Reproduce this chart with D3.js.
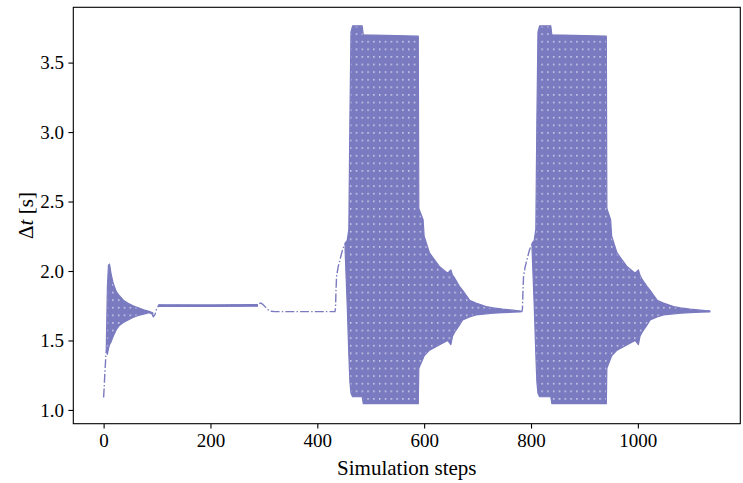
<!DOCTYPE html>
<html>
<head>
<meta charset="utf-8">
<script src="https://cdn.jsdelivr.net/npm/d3@7"></script>
<style>
  body { margin: 0; background: #fff; }
  text { font-family: "Liberation Serif", "DejaVu Serif", serif; fill: #000; }
</style>
</head>
<body>
<svg id="chart" width="743" height="483"></svg>
<script>
// Time-step size per simulation step.
// Single-valued stretches of the trace (null separates stretches).
const traceSteps = [0, 1, 2, 3, 4, 5, null,
  90, 93, 96, 99, 103, 150, 200, 250, 285, 290, 294, 298, 303, 308, 314, 320, 380, 433, 434, 435, 436, 439, 443, 447, 450, 453, null,
  778, 783, 784, 785, 786, 789, 793, 797, 800, 803, null,
  1130, 1135];
const traceDt = [1.09, 1.16, 1.24, 1.31, 1.38, 1.43, null,
  1.70, 1.672, 1.685, 1.725, 1.752, 1.752, 1.75, 1.752, 1.755, 1.763, 1.77, 1.76, 1.74, 1.72, 1.71, 1.708, 1.708, 1.708, 1.73, 1.86, 1.96, 2.03, 2.09, 2.15, 2.18, 2.2, null,
  1.71, 1.708, 1.73, 1.86, 1.96, 2.03, 2.09, 2.15, 2.18, 2.2, null,
  1.712, 1.71];

// Oscillating stretches: upper and lower reach of the step size (null separates stretches).
const bandSteps = [5, 7, 9, 11, 14, 18, 24, 30, 37, 45, 55, 65, 75, 85, 92, null,
  103, 200, 288, null,
  452, 456, 459, 461, 463, 466, 484, 486, 589, 590, 598, 600, 610, 629, 644, 650, 653, 657, 666, 672, 685, 697, 716, 729, 747, 766, 780, null,
  802, 806, 809, 811, 813, 816, 837, 839, 941, 942, 949, 951, 961, 980, 995, 1001, 1004, 1008, 1017, 1023, 1036, 1048, 1067, 1080, 1098, 1117, 1135];
const bandHigh = [1.45, 1.88, 2.04, 2.05, 1.98, 1.91, 1.85, 1.82, 1.79, 1.77, 1.75, 1.735, 1.72, 1.71, 1.70, null,
  1.757, 1.756, 1.758, null,
  2.2, 2.22, 2.3, 3.1, 3.72, 3.765, 3.765, 3.70, 3.69, 2.45, 2.37, 2.25, 2.13, 2.03, 1.984, 2.008, 1.97, 1.95, 1.89, 1.86, 1.79, 1.77, 1.744, 1.735, 1.725, 1.718, 1.712, null,
  2.2, 2.22, 2.3, 3.1, 3.72, 3.765, 3.765, 3.70, 3.69, 2.45, 2.37, 2.25, 2.13, 2.03, 1.984, 2.008, 1.97, 1.94, 1.89, 1.86, 1.79, 1.77, 1.744, 1.735, 1.725, 1.718, 1.712];
const bandLow = [1.43, 1.40, 1.44, 1.47, 1.49, 1.53, 1.58, 1.61, 1.63, 1.645, 1.665, 1.68, 1.69, 1.70, 1.69, null,
  1.746, 1.745, 1.747, null,
  2.15, 1.75, 1.4, 1.2, 1.12, 1.095, 1.095, 1.045, 1.045, 1.30, 1.37, 1.39, 1.43, 1.47, 1.50, 1.47, 1.53, 1.56, 1.61, 1.648, 1.67, 1.684, 1.692, 1.696, 1.70, 1.703, 1.706, null,
  2.15, 1.75, 1.4, 1.2, 1.12, 1.095, 1.095, 1.045, 1.045, 1.30, 1.37, 1.39, 1.43, 1.47, 1.50, 1.47, 1.53, 1.56, 1.61, 1.648, 1.67, 1.684, 1.692, 1.696, 1.70, 1.703, 1.706];

const xTicks = [0, 200, 400, 600, 800, 1000];
const yTicks = [1.0, 1.5, 2.0, 2.5, 3.0, 3.5];

const color = "#7a7ac0";
const svg = d3.select("#chart");
const plot = { left: 73.3, right: 740.3, top: 7.3, bottom: 423.7 };

const x = d3.scaleLinear().domain([-56.75, 1191.75]).range([plot.left, plot.right]);
const y = d3.scaleLinear().domain([0.901, 3.898]).range([plot.bottom, plot.top]);

// lattice of small gaps left by the dash-dot line inside the dense stretches
const defs = svg.append("defs");
const pat = defs.append("pattern").attr("id", "gaps")
  .attr("patternUnits", "userSpaceOnUse").attr("width", 5.8).attr("height", 7.6);
pat.append("rect").attr("width", 5.8).attr("height", 7.6).attr("fill", color);
pat.append("rect").attr("x", 2).attr("y", 3).attr("width", 1.4).attr("height", 1.4)
  .attr("fill", "#fff").attr("opacity", 0.8);
defs.append("clipPath").attr("id", "clip").append("rect")
  .attr("x", plot.left).attr("y", plot.top)
  .attr("width", plot.right - plot.left).attr("height", plot.bottom - plot.top);

const g = svg.append("g").attr("clip-path", "url(#clip)");

const band = d3.area()
  .defined(i => bandHigh[i] != null)
  .x(i => x(bandSteps[i]))
  .y0(i => y(bandLow[i]))
  .y1(i => y(bandHigh[i]));
g.append("path")
  .attr("d", band(d3.range(bandSteps.length)))
  .attr("fill", "url(#gaps)")
  .attr("stroke", color).attr("stroke-width", 1.2).attr("stroke-linejoin", "round");

const trace = d3.line()
  .defined(i => traceDt[i] != null)
  .x(i => x(traceSteps[i]))
  .y(i => y(traceDt[i]));
g.append("path")
  .attr("d", trace(d3.range(traceSteps.length)))
  .attr("fill", "none").attr("stroke", color).attr("stroke-width", 1.4)
  .attr("stroke-dasharray", "8.9,2.2,1.4,2.2");

// axes
const xAxis = d3.axisBottom(x).tickValues(xTicks).tickFormat(d3.format("d"))
  .tickSize(4.9).tickPadding(4.5);
const yAxis = d3.axisLeft(y).tickValues(yTicks).tickFormat(d3.format(".1f"))
  .tickSize(4.9).tickPadding(4.5);

const gx = svg.append("g").attr("transform", `translate(0,${plot.bottom})`).call(xAxis);
const gy = svg.append("g").attr("transform", `translate(${plot.left},0)`).call(yAxis);
[gx, gy].forEach(a => {
  a.select(".domain").remove();
  a.selectAll(".tick line").attr("stroke", "#000").attr("stroke-width", 1.1);
  a.selectAll(".tick text").attr("font-size", 19).attr("font-family", null);
});

svg.append("rect")
  .attr("x", plot.left).attr("y", plot.top)
  .attr("width", plot.right - plot.left).attr("height", plot.bottom - plot.top)
  .attr("fill", "none").attr("stroke", "#000").attr("stroke-width", 1.1);

svg.append("text")
  .attr("x", (plot.left + plot.right) / 2).attr("y", 475)
  .attr("text-anchor", "middle").attr("font-size", 21)
  .text("Simulation steps");

const yl = svg.append("text")
  .attr("transform", `translate(33,${(plot.top + plot.bottom) / 2}) rotate(-90)`)
  .attr("text-anchor", "middle").attr("font-size", 21);
yl.append("tspan").text("Δ");
yl.append("tspan").attr("font-style", "italic").text("t");
yl.append("tspan").text(" [s]");
</script>
</body>
</html>
